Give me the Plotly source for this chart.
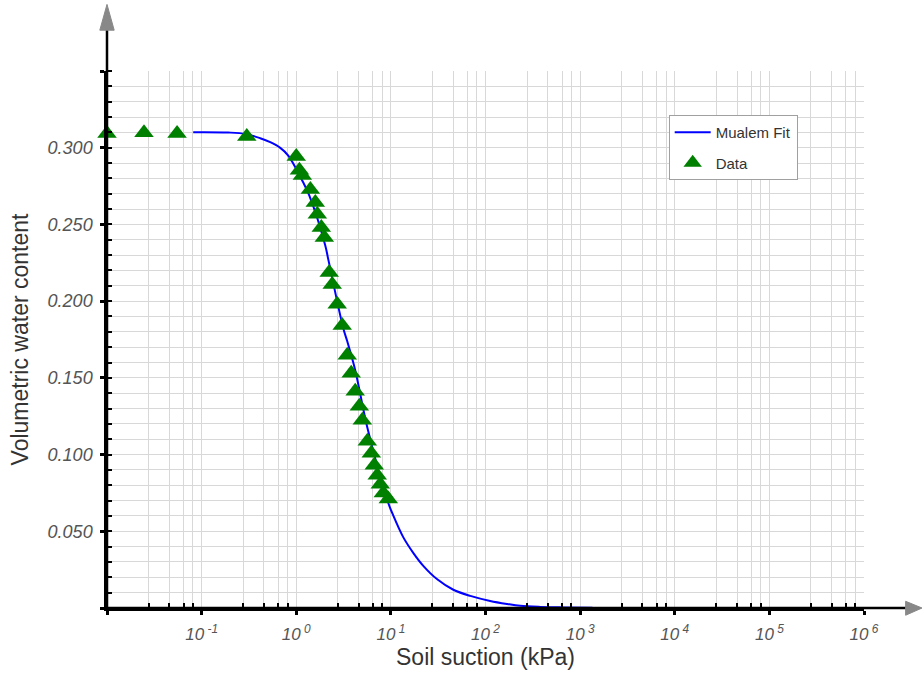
import plotly.graph_objects as go

# Measured soil-water retention data (suction in kPa, volumetric water content)
suction_data = [0.01, 0.0246, 0.055, 0.30, 1.00, 1.08, 1.16, 1.41, 1.59, 1.67, 1.84, 1.98,
                2.23, 2.40, 2.71, 3.06, 3.46, 3.81, 4.20, 4.64, 4.99, 5.64, 6.21, 6.68,
                7.18, 7.73, 8.32, 9.39]
theta_data = [0.3092, 0.3097, 0.3092, 0.3073, 0.2942, 0.2853, 0.2819, 0.2727, 0.2643,
              0.2567, 0.2480, 0.2415, 0.2187, 0.2109, 0.1979, 0.1842, 0.1647, 0.1530,
              0.1413, 0.1315, 0.1224, 0.1087, 0.1009, 0.0931, 0.0866, 0.0807, 0.0749,
              0.0710]

# Mualem (van Genuchten) fitted curve, sampled along the suction range
suction_fit = [0.0815, 0.191, 0.289, 0.416, 0.531, 0.678, 0.823, 1.186, 1.372, 2.026,
               2.18, 3.14, 3.46, 4.2, 5.63, 9.39, 10.35, 13.5, 17.3, 22.0, 30.9, 45.7,
               69.1, 112, 170, 233, 380, 664, 1350]
theta_fit = [0.3101, 0.3099, 0.3090, 0.3062, 0.3036, 0.2999, 0.2949, 0.2773, 0.2689,
             0.2363, 0.2272, 0.1823, 0.1738, 0.1550, 0.1178, 0.0684, 0.0618, 0.0462,
             0.0358, 0.0275, 0.0187, 0.0119, 0.0079, 0.0046, 0.0026, 0.0014, 0.0007,
             0.0004, 0.0002]

# Axis ticks
x_major = [1e-2, 1e-1, 1e0, 1e1, 1e2, 1e3, 1e4, 1e5, 1e6]
x_labels = ["", "10<sup> -1</sup>", "10<sup> 0</sup>", "10<sup> 1</sup>", "10<sup> 2</sup>",
            "10<sup> 3</sup>", "10<sup> 4</sup>", "10<sup> 5</sup>", "10<sup> 6</sup>"]
x_minor_steps = [2.75, 4.55, 6.45, 8.1]
x_minor = [m * 10.0 ** d for d in range(-2, 6) for m in x_minor_steps]
y_major = [0.0, 0.05, 0.10, 0.15, 0.20, 0.25, 0.30, 0.35]
y_labels = ["", "0.050", "0.100", "0.150", "0.200", "0.250", "0.300", ""]

GRID = "#d8d8d8"
AXIS = "black"
ARROW = "#888888"
LABEL = "#555555"
FONT = "Liberation Sans, Arial, sans-serif"

fig = go.Figure()
fig.add_trace(go.Scatter(
    x=suction_fit, y=theta_fit, mode="lines", name="Mualem Fit",
    line=dict(color="#0000ff", width=2, shape="spline", smoothing=1.0),
    legendgroup="fit",
))
fig.add_trace(go.Scatter(
    x=suction_data, y=theta_data, mode="markers", name="Data",
    marker=dict(symbol="triangle-up", size=17, color="#008000"),
    legendgroup="data", cliponaxis=False,
))

fig.update_xaxes(
    type="log", range=[-2, 6],
    showline=True, linecolor=AXIS, linewidth=2.5,
    tickmode="array", tickvals=x_major, ticktext=x_labels,
    ticks="outside", ticklen=4, tickwidth=3, tickcolor=AXIS,
    tickfont=dict(family=FONT, size=17, color=LABEL, style="italic"),
    ticklabelstandoff=5,
    showgrid=True, gridcolor=GRID, gridwidth=1, zeroline=False,
    minor=dict(tickmode="array", tickvals=x_minor, ticks="inside", ticklen=5,
               tickwidth=1.5, tickcolor=AXIS, showgrid=True, gridcolor=GRID, gridwidth=1),
    title=dict(text="Soil suction (kPa)", font=dict(family=FONT, size=23, color="#333333"),
               standoff=6),
)
fig.update_yaxes(
    range=[0, 0.35],
    showline=True, linecolor=AXIS, linewidth=2.5,
    tickmode="array", tickvals=y_major, ticktext=y_labels,
    ticks="outside", ticklen=4, tickwidth=3, tickcolor=AXIS,
    tickfont=dict(family=FONT, size=18, color=LABEL, style="italic"),
    ticklabelstandoff=4,
    showgrid=True, gridcolor=GRID, gridwidth=1, zeroline=False,
    minor=dict(dtick=0.01, tick0=0, ticks="inside", ticklen=5, tickwidth=1.5,
               tickcolor=AXIS, showgrid=True, gridcolor=GRID, gridwidth=1),
    title=dict(text="Volumetric water content", font=dict(family=FONT, size=23, color="#333333"),
               standoff=13),
)

# Axis lines extended past the plotting area, ending in arrowheads
shapes = [
    dict(type="line", xref="paper", yref="paper", x0=0, x1=0, y0=0, y1=1.082,
         line=dict(color=AXIS, width=2.5)),
    dict(type="path", xref="paper", yref="paper",
         path="M -0.0095,1.076 L 0.0095,1.076 L 0,1.124 Z",
         fillcolor=ARROW, line=dict(color=ARROW, width=1)),
    dict(type="line", xref="paper", yref="paper", x0=0, x1=1.058, y0=0, y1=0,
         line=dict(color=AXIS, width=2.5)),
    dict(type="path", xref="paper", yref="paper",
         path="M 1.055,0.0125 L 1.055,-0.0135 L 1.0766,0 Z",
         fillcolor=ARROW, line=dict(color=ARROW, width=1)),
]

fig.update_layout(
    width=922, height=683,
    margin=dict(l=107, r=58, t=71, b=75),
    paper_bgcolor="white", plot_bgcolor="white",
    font=dict(family=FONT, color="#333333"),
    shapes=shapes,
    showlegend=True,
    legend=dict(
        x=0.742, y=0.918, xanchor="left", yanchor="top",
        bgcolor="white", bordercolor="#a0a0a0", borderwidth=1,
        font=dict(family=FONT, size=15, color="#333333"),
        tracegroupgap=8, itemwidth=36,
    ),
)

fig.write_html("out.html")
